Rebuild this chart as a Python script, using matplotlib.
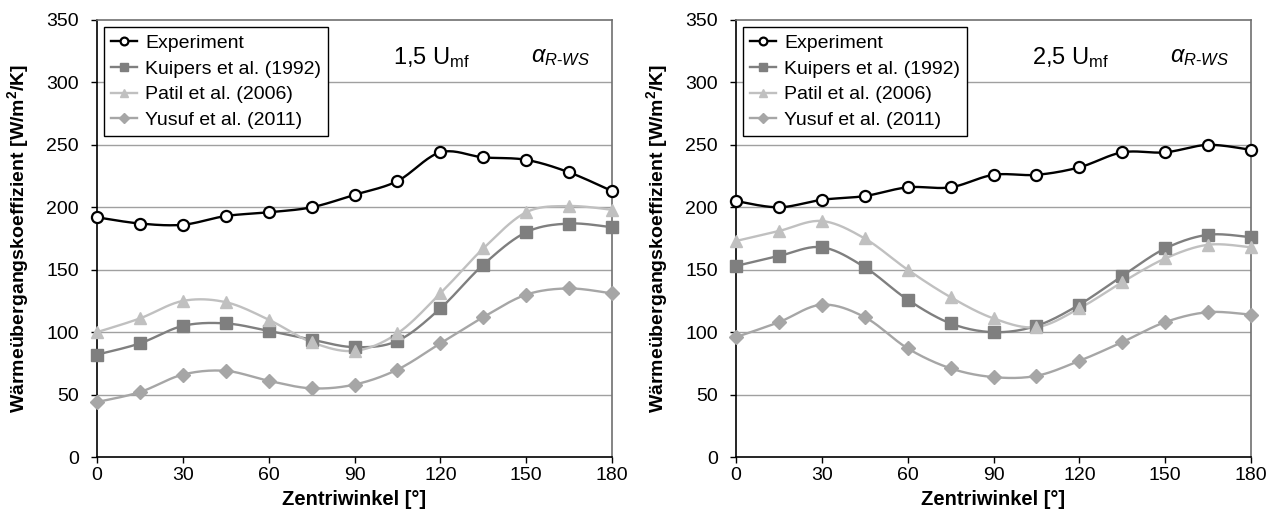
import numpy as np
import matplotlib
matplotlib.use('Agg')
import matplotlib.pyplot as plt

plt.rcParams['font.family'] = ['Liberation Sans', 'DejaVu Sans']
plt.rcParams['mathtext.fontset'] = 'custom'
plt.rcParams['mathtext.rm'] = 'Liberation Sans'
plt.rcParams['mathtext.it'] = 'Liberation Sans:italic'
plt.rcParams['mathtext.bf'] = 'Liberation Sans:bold'

# Zentriwinkel [deg]
angle = [0, 15, 30, 45, 60, 75, 90, 105, 120, 135, 150, 165, 180]

series_names = ['Experiment', 'Kuipers et al. (1992)', 'Patil et al. (2006)', 'Yusuf et al. (2011)']

# 1,5 U_mf
exp_15 = [192, 187, 186, 193, 196, 200, 210, 221, 244, 240, 238, 228, 213]
kui_15 = [82, 91, 105, 107, 101, 94, 88, 93, 119, 154, 180, 187, 184]
pat_15 = [100, 111, 125, 124, 110, 92, 85, 99, 131, 167, 196, 201, 198]
yus_15 = [44, 52, 66, 69, 61, 55, 58, 70, 91, 112, 130, 135, 131]

# 2,5 U_mf
exp_25 = [205, 200, 206, 209, 216, 216, 226, 226, 232, 244, 244, 250, 246]
kui_25 = [153, 161, 168, 152, 126, 107, 100, 105, 122, 145, 167, 178, 176]
pat_25 = [173, 181, 189, 175, 150, 128, 111, 104, 119, 140, 159, 170, 168]
yus_25 = [96, 108, 122, 112, 87, 71, 64, 65, 77, 92, 108, 116, 114]

panels = [('1,5', [exp_15, kui_15, pat_15, yus_15]),
          ('2,5', [exp_25, kui_25, pat_25, yus_25])]

styles = [dict(color='black', marker='o', mfc='white', mec='black', ms=8, mew=1.6),
          dict(color='#7f7f7f', marker='s', mfc='#7f7f7f', mec='#7f7f7f', ms=8),
          dict(color='#c0c0c0', marker='^', mfc='#c0c0c0', mec='#c0c0c0', ms=9),
          dict(color='#a6a6a6', marker='D', mfc='#a6a6a6', mec='#a6a6a6', ms=7)]


def smooth(x, y, n=20, t=0.5):
    # excel-like smoothed line (cardinal spline through the points)
    x = np.asarray(x, float); y = np.asarray(y, float)
    px = np.concatenate([[x[0]], x, [x[-1]]])
    py = np.concatenate([[y[0]], y, [y[-1]]])
    xs, ys = [], []
    s = np.linspace(0, 1, n, endpoint=False)
    for i in range(1, len(px) - 2):
        m0x = t * (px[i + 1] - px[i - 1]); m0y = t * (py[i + 1] - py[i - 1])
        m1x = t * (px[i + 2] - px[i]); m1y = t * (py[i + 2] - py[i])
        h00 = 2 * s**3 - 3 * s**2 + 1
        h10 = s**3 - 2 * s**2 + s
        h01 = -2 * s**3 + 3 * s**2
        h11 = s**3 - s**2
        xs.append(h00 * px[i] + h10 * m0x + h01 * px[i + 1] + h11 * m1x)
        ys.append(h00 * py[i] + h10 * m0y + h01 * py[i + 1] + h11 * m1y)
    xs.append([x[-1]]); ys.append([y[-1]])
    return np.concatenate(xs), np.concatenate(ys)


fig = plt.figure(figsize=(12.76, 5.23), dpi=100)
lefts = [97 / 1276, 736 / 1276]

for k, (umf, data) in enumerate(panels):
    ax = fig.add_axes([lefts[k], 1 - 457 / 523, 515 / 1276, 437 / 523])
    for vals, name, st in zip(data, series_names, styles):
        xs, ys = smooth(angle, vals)
        ax.plot(xs, ys, color=st['color'], lw=1.7, zorder=3)
        ax.plot(angle, vals, ls='none', marker=st['marker'], ms=st['ms'], mfc=st['mfc'],
                mec=st['mec'], mew=st.get('mew', 1), zorder=4, clip_on=False)
        # legend proxy
        ax.plot([], [], color=st['color'], lw=1.7, marker=st['marker'], ms=st['ms'] * 0.7,
                mfc=st['mfc'], mec=st['mec'], mew=st.get('mew', 1), label=name)

    ax.set_xlim(0, 180)
    ax.set_ylim(0, 350)
    ax.set_xticks(range(0, 181, 30))
    ax.set_yticks(range(0, 351, 50))
    for y in range(50, 301, 50):
        ax.axhline(y, color='#a0a0a0', lw=1, zorder=1)
    ax.spines['left'].set_color('black')
    ax.spines['bottom'].set_color('black')
    ax.spines['top'].set_color('#707070')
    ax.spines['right'].set_color('#707070')
    for sp in ax.spines.values():
        sp.set_linewidth(1.2)
    ax.tick_params(direction='out', length=4, width=1, labelsize=14)
    ax.tick_params(axis='y', pad=9)
    ax.tick_params(axis='x', pad=3)

    ax.set_xlabel('Zentriwinkel [°]', fontsize=14.5, fontweight='bold')
    ax.xaxis.set_label_coords(0.5, -0.075)
    ax.set_ylabel('Wärmeübergangskoeffizient [W/m$^\\mathbf{2}$/K]', fontsize=14, fontweight='bold')
    ax.yaxis.set_label_coords(-0.128, 0.5)

    leg = ax.legend(loc='upper left', bbox_to_anchor=(0.014, 0.983), fontsize=14,
                    frameon=True, fancybox=False, framealpha=1, edgecolor='black',
                    handlelength=1.35, handletextpad=0.4, labelspacing=0.42,
                    borderpad=0.35, borderaxespad=0)
    leg.get_frame().set_linewidth(1)
    leg.set_zorder(5)

    ax.text(117, 320, umf + ' U$_{\\mathregular{mf}}$', fontsize=17, ha='center', va='center')
    ax.text(162, 320, r'$\alpha_{R\text{-}WS}$', fontsize=17, ha='center', va='center')

fig.savefig('out.png', dpi=100)
